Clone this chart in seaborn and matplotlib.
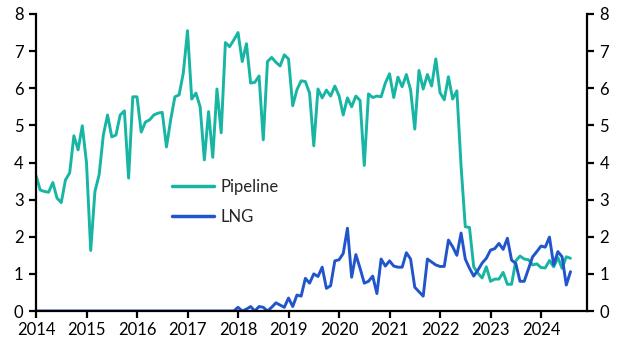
import numpy as np
import pandas as pd
import matplotlib
matplotlib.use("Agg")
import matplotlib.pyplot as plt
import seaborn as sns

# monthly values, Jan 2014 .. Aug 2024
pipeline = [
    3.65, 3.26, 3.22, 3.20, 3.46, 3.04, 2.92, 3.53, 3.72, 4.72, 4.34, 4.99,  # 2014
    3.99, 1.63, 3.22, 3.67, 4.74, 5.28, 4.69, 4.74, 5.28, 5.39, 3.58, 5.77,  # 2015
    5.77, 4.82, 5.09, 5.15, 5.28, 5.33, 5.35, 4.42, 5.15, 5.77, 5.82, 6.41,  # 2016
    7.55, 5.71, 5.87, 5.50, 4.07, 5.37, 4.14, 5.98, 4.80, 7.23, 7.12, 7.30,  # 2017
    7.50, 6.72, 7.20, 6.14, 6.16, 6.33, 4.61, 6.72, 6.83, 6.70, 6.60, 6.90,  # 2018
    6.79, 5.53, 5.96, 6.20, 6.18, 5.87, 4.45, 5.98, 5.74, 5.95, 5.79, 6.06,  # 2019
    5.80, 5.28, 5.74, 5.50, 5.79, 5.67, 3.92, 5.85, 5.75, 5.79, 5.77, 6.14,  # 2020
    6.39, 5.75, 6.30, 6.04, 6.37, 5.96, 4.90, 6.48, 5.98, 6.37, 6.06, 6.79,  # 2021
    5.88, 5.69, 6.31, 5.71, 5.93, 3.90, 2.27, 2.25, 1.19, 1.02, 0.89, 1.19,  # 2022
    0.80, 0.86, 0.86, 1.04, 0.72, 0.72, 1.35, 1.48, 1.40, 1.38, 1.24, 1.27,  # 2023
    1.17, 1.16, 1.36, 1.19, 1.44, 1.15, 1.46, 1.42,                          # 2024
]
lng = [0.0] * 48 + [
    0.10, 0.00, 0.05, 0.12, 0.00, 0.12, 0.10, 0.00, 0.10, 0.22, 0.16, 0.10,  # 2018
    0.35, 0.12, 0.43, 0.40, 0.88, 0.75, 1.00, 0.93, 1.18, 0.61, 0.68, 1.35,  # 2019
    1.38, 1.55, 2.23, 0.91, 1.52, 1.15, 0.75, 0.80, 0.94, 0.47, 1.40, 1.21,  # 2020
    1.35, 1.21, 1.18, 1.18, 1.57, 1.40, 0.64, 0.52, 0.40, 1.40, 1.32, 1.24,  # 2021
    1.20, 1.20, 1.91, 1.73, 1.50, 2.10, 1.40, 1.15, 0.94, 1.10, 1.29, 1.42,  # 2022
    1.64, 1.68, 1.82, 1.66, 1.96, 1.37, 1.28, 0.80, 0.80, 1.13, 1.46, 1.60,  # 2023
    1.75, 1.72, 1.99, 1.24, 1.60, 1.46, 0.70, 1.06,                          # 2024
]
years = list(range(2014, 2025))
series_names = ["Pipeline", "LNG"]
colors = ["#17b5a3", "#2155cc"]

t = 2014 + np.arange(len(pipeline)) / 12
df = pd.DataFrame({
    "t": np.concatenate([t, t]),
    "value": pipeline + lng,
    "series": ["Pipeline"] * len(pipeline) + ["LNG"] * len(lng),
})

sns.set_style("white")
plt.rcParams["font.family"] = ["Lato", "DejaVu Sans"]

fig, ax = plt.subplots(figsize=(6.31, 3.5), dpi=100)
fig.subplots_adjust(left=36 / 631, right=587 / 631, bottom=1 - 311 / 350, top=1 - 14 / 350)

sns.lineplot(data=df, x="t", y="value", hue="series", hue_order=series_names,
             palette=colors, linewidth=2.1, ax=ax)

ax.set_xlim(2014, 2024.91)
ax.set_ylim(0, 8)
ax.set_xticks(years)
ax.set_xticklabels([str(y) for y in years])
ax.set_yticks(range(0, 9))
ax.set_xlabel("")
ax.set_ylabel("")

for side in ["left", "right", "bottom"]:
    ax.spines[side].set_visible(True)
    ax.spines[side].set_color("black")
    ax.spines[side].set_linewidth(1.6)
ax.spines["top"].set_visible(False)

ax.tick_params(axis="both", which="major", direction="out", length=5, width=1.6,
               color="black", labelsize=12, labelcolor="black")
ax.tick_params(axis="y", left=True, right=True, labelleft=True, labelright=True, pad=4)
ax.tick_params(axis="x", bottom=True, pad=3)

leg = ax.legend(loc="upper left", bbox_to_anchor=(0.22, 0.495), frameon=False,
                fontsize=12, handlelength=2.5, labelspacing=0.85, handletextpad=0.4)
for line in leg.get_lines():
    line.set_linewidth(2.5)

fig.savefig("out.png", dpi=100)
